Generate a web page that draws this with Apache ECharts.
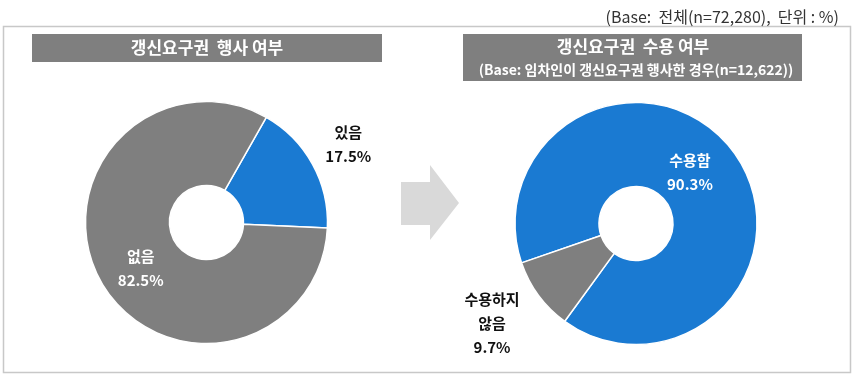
<!DOCTYPE html>
<html><head><meta charset="utf-8">
<script src="https://cdn.jsdelivr.net/npm/echarts@6/dist/echarts.min.js"></script>
<style>html,body{margin:0;padding:0;background:#fff}#c{width:860px;height:383px}</style>
</head><body><div id="c"></div>
<script>
const leftNames = ['있음', '없음'];
const leftValues = [17.5, 82.5];
const rightNames = ['수용함', '수용하지 않음'];
const rightValues = [90.3, 9.7];
const leftTitle = '갱신요구권  행사 여부';
const rightTitle = '갱신요구권  수용 여부';
const rightSub = '(Base: 임차인이 갱신요구권 행사한 경우(n=12,622))';
const note = '(Base:  전체(n=72,280),  단위 : %)';

const BLUE = '#1a7ad2', GRAY = '#7f7f7f';
const FONT = '"Noto Sans CJK KR", "Noto Sans", sans-serif';
const chart = echarts.init(document.getElementById('c'), null, {renderer: 'canvas'});

function pieData(names, vals, colors, labelColors) {
  return names.map((n, i) => ({
    name: n, value: vals[i],
    itemStyle: {color: colors[i]},
    label: {color: labelColors[i]}
  }));
}
const labelCfg = {
  show: true, position: 'inside', fontFamily: FONT, fontSize: 15, fontWeight: 'bold',
  lineHeight: 24, align: 'center',
  formatter: p => p.name.replace(' ', '\n') + '\n' + p.value + '%'
};

chart.setOption({
  backgroundColor: '#fff',
  animation: false,
  graphic: [
    {type: 'rect', shape: {x: 3.5, y: 26.5, width: 847, height: 346}, style: {fill: 'none', stroke: '#c8c8c8', lineWidth: 1.5}, z: 0},
    {type: 'rect', shape: {x: 32, y: 34, width: 350, height: 28}, style: {fill: GRAY}, z: 1},
    {type: 'text', x: 207, y: 48, style: {text: leftTitle, fill: '#fff', font: 'bold 17px ' + FONT, align: 'center', verticalAlign: 'middle'}, z: 2},
    {type: 'rect', shape: {x: 463, y: 34, width: 339, height: 47}, style: {fill: GRAY}, z: 1},
    {type: 'text', x: 633, y: 47, style: {text: rightTitle, fill: '#fff', font: 'bold 17px ' + FONT, align: 'center', verticalAlign: 'middle'}, z: 2},
    {type: 'text', x: 636, y: 70, style: {text: rightSub, fill: '#fff', font: 'bold 14px ' + FONT, align: 'center', verticalAlign: 'middle'}, z: 2},
    {type: 'text', x: 839, y: 17, style: {text: note, fill: '#333', font: '16px ' + FONT, align: 'right', verticalAlign: 'middle'}, z: 2},
    {type: 'polygon', shape: {points: [[401, 182], [430, 182], [430, 165], [459, 203], [430, 240], [430, 225], [401, 225]]}, style: {fill: '#d9d9d9'}, z: 1}
  ],
  series: [
    {
      type: 'pie', center: [206.5, 222.5], radius: [37, 121], startAngle: 60.4,
      itemStyle: {borderColor: '#fff', borderWidth: 1.5},
      label: labelCfg, labelLine: {show: false},
      labelLayout: p => p.dataIndex === 0 ? {dx: 70, dy: -39} : {dx: 6, dy: 6},
      data: pieData(leftNames, leftValues, [BLUE, GRAY], ['#111', '#fff'])
    },
    {
      type: 'pie', center: [636, 223.5], radius: [37, 121], startAngle: 199,
      itemStyle: {borderColor: '#fff', borderWidth: 1.5},
      label: labelCfg, labelLine: {show: false},
      labelLayout: p => p.dataIndex === 1 ? {dx: -78, dy: 51} : {dx: -12, dy: -2},
      data: pieData(rightNames, rightValues, [BLUE, GRAY], ['#fff', '#111'])
    }
  ]
});
</script></body></html>
